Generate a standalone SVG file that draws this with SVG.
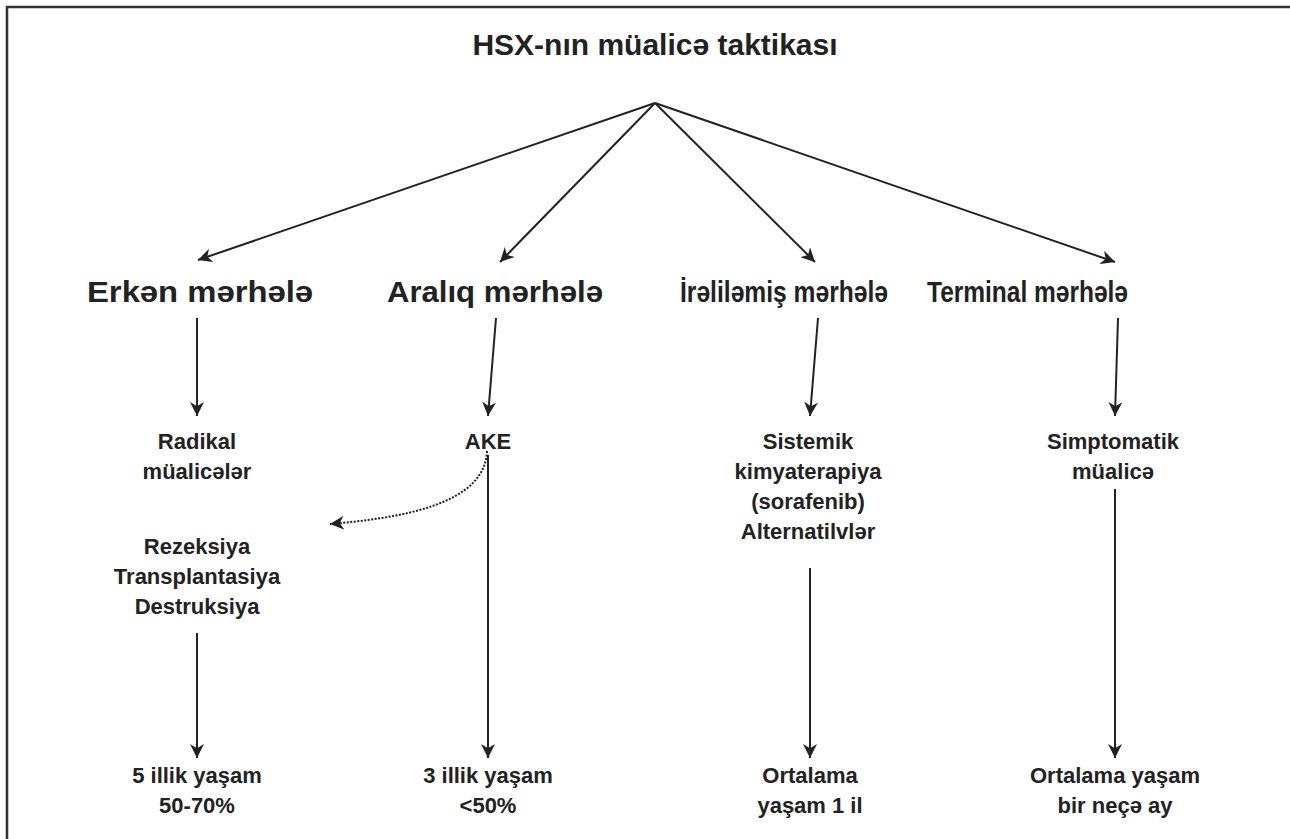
<svg xmlns="http://www.w3.org/2000/svg" width="1290" height="839" viewBox="0 0 1290 839">
<style>
text{font-family:"Liberation Sans",Arial,sans-serif;font-weight:bold;fill:#222;text-anchor:middle}
.t{font-size:30px}
.s{font-size:29px}
.n{font-size:22px}
.c line,.c path{stroke:#222;stroke-width:2;fill:none}
</style>
<defs>
<marker id="ab" viewBox="0 0 10 10" refX="10" refY="5" markerWidth="14" markerHeight="14" orient="auto" markerUnits="userSpaceOnUse">
<path d="M0,0 L10,5 L0,10 L3,5 Z" fill="#222"/>
</marker>
</defs>
<rect width="1290" height="839" fill="#fff"/>
<path d="M7,839 V7 H1290" stroke="#333" stroke-width="2.5" fill="none"/>
<g id="title"><text class="t" x="655" y="55">HSX-nın müalicə taktikası</text></g>
<g id="erken"><text class="s" x="200" y="302" textLength="226" lengthAdjust="spacingAndGlyphs">Erkən mərhələ</text></g>
<g id="araliq"><text class="s" x="495" y="302" textLength="216" lengthAdjust="spacingAndGlyphs">Aralıq mərhələ</text></g>
<g id="irelilemis"><text class="s" x="784" y="302" textLength="208" lengthAdjust="spacingAndGlyphs">İrəliləmiş mərhələ</text></g>
<g id="terminal"><text class="s" x="1027.5" y="302" textLength="201" lengthAdjust="spacingAndGlyphs">Terminal mərhələ</text></g>
<g id="radikal"><text class="n" x="197" y="449">Radikal</text><text class="n" x="197" y="479">müalicələr</text></g>
<g id="ake"><text class="n" x="488" y="449">AKE</text></g>
<g id="sistemik"><text class="n" x="808" y="449">Sistemik</text><text class="n" x="808" y="479">kimyaterapiya</text><text class="n" x="808" y="509">(sorafenib)</text><text class="n" x="808" y="539">Alternatilvlər</text></g>
<g id="simptomatik"><text class="n" x="1113" y="449">Simptomatik</text><text class="n" x="1113" y="479">müalicə</text></g>
<g id="rezeksiya"><text class="n" x="197" y="554">Rezeksiya</text><text class="n" x="197" y="584">Transplantasiya</text><text class="n" x="197" y="614">Destruksiya</text></g>
<g id="r1"><text class="n" x="197" y="783">5 illik yaşam</text><text class="n" x="197" y="813">50-70%</text></g>
<g id="r2"><text class="n" x="488" y="783">3 illik yaşam</text><text class="n" x="488" y="813">&lt;50%</text></g>
<g id="r3"><text class="n" x="810" y="783">Ortalama</text><text class="n" x="810" y="813">yaşam 1 il</text></g>
<g id="r4"><text class="n" x="1115" y="783">Ortalama yaşam</text><text class="n" x="1115" y="813">bir neçə ay</text></g>
<g class="c" id="connectors">
<line x1="655" y1="103" x2="198" y2="260" marker-end="url(#ab)"/>
<line x1="655" y1="103" x2="500" y2="262" marker-end="url(#ab)"/>
<line x1="655" y1="103" x2="815" y2="262" marker-end="url(#ab)"/>
<line x1="655" y1="103" x2="1115" y2="262" marker-end="url(#ab)"/>
<line x1="197" y1="318" x2="197" y2="416" marker-end="url(#ab)"/>
<line x1="496" y1="318" x2="488" y2="416" marker-end="url(#ab)"/>
<line x1="818" y1="318" x2="810" y2="416" marker-end="url(#ab)"/>
<line x1="1118" y1="318" x2="1115" y2="416" marker-end="url(#ab)"/>
<line x1="488" y1="455" x2="488" y2="758" marker-end="url(#ab)"/>
<path d="M487,451 C485,505 400,518 330,524" stroke-dasharray="2,1.5" marker-end="url(#ab)"/>
<line x1="197" y1="633" x2="197" y2="758" marker-end="url(#ab)"/>
<line x1="810" y1="568" x2="810" y2="758" marker-end="url(#ab)"/>
<line x1="1115" y1="489" x2="1115" y2="758" marker-end="url(#ab)"/>
</g>
</svg>
